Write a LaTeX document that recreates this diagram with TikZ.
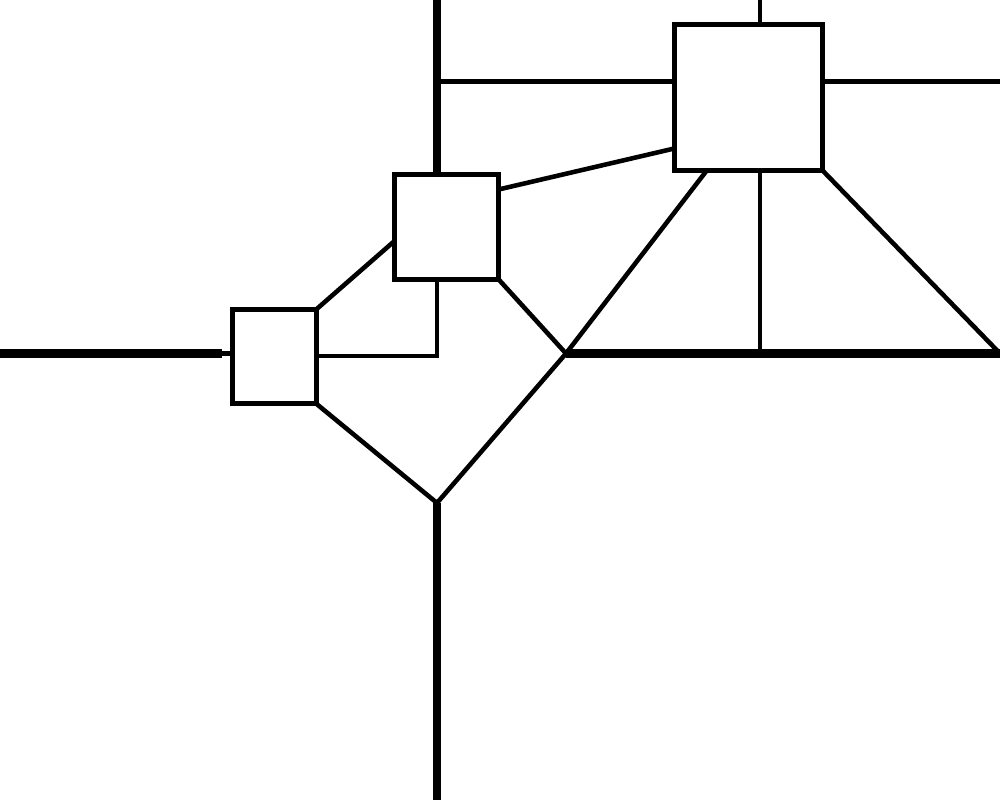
\documentclass[tikz,border=0pt]{standalone}
\begin{document}
\begin{tikzpicture}[x=0.1mm,y=-0.1mm,
  thin line/.style={line width=1.3pt,line cap=rect,line join=miter},
  thick line/.style={line width=2.3pt},
  box/.style={draw,line width=1.3pt,inner sep=0pt,fill=white}]
\useasboundingbox (0,0) rectangle (1000,800);
% boxes
\node[box,minimum width=8.4mm,minimum height=9.4mm] (A) at (274.5,356.5) {};
\node[box,minimum width=10.4mm,minimum height=10.5mm] (B) at (446.5,227) {};
\node[box,minimum width=14.8mm,minimum height=14.6mm] (C) at (748.5,97.5) {};
% coordinates
\coordinate (L0) at (0,353.5);
\coordinate (L1) at (222,353.5);
\coordinate (V0) at (437,0);
\coordinate (H0) at (437,81.5);
\coordinate (H1) at (1000,81.5);
\coordinate (T0) at (760,0);
\coordinate (J) at (566,353.5);
\coordinate (R) at (1000,353.5);
\coordinate (P) at (437,503);
\coordinate (D) at (437,800);
\coordinate (M) at (437,356);
% thick lines
\draw[thick line] (L0) -- (L1);
\draw[thin line] (L1) -- (A.west |- L1);
\draw[thick line] (V0) -- (V0 |- B.north);
\draw[thick line] (J) -- (R);
\draw[thick line] (P) -- (D);
% thin lines
\draw[thin line] (A.east |- M) -- (M) -- (M |- B.south);
\draw[thin line] (A.north east) -- ([yshift=-1.6mm]B.west);
\draw[thin line] ([yshift=3.8mm]B.east) -- ([yshift=-5.15mm]C.west);
\draw[thin line] (H0) -- (H0 -| C.west);
\draw[thin line] (H1 -| C.east) -- (H1);
\draw[thin line] (T0) -- (T0 |- C.north);
\draw[thin line] (T0 |- C.south) -- (T0 |- J);
\draw[thin line] (B.south east) -- (J);
\draw[thin line,line join=round] (A.south east) -- (P) -- (J) -- ([xshift=-4.35mm]C.south);
\draw[thin line] (C.south east) -- (R);
\end{tikzpicture}
\end{document}
